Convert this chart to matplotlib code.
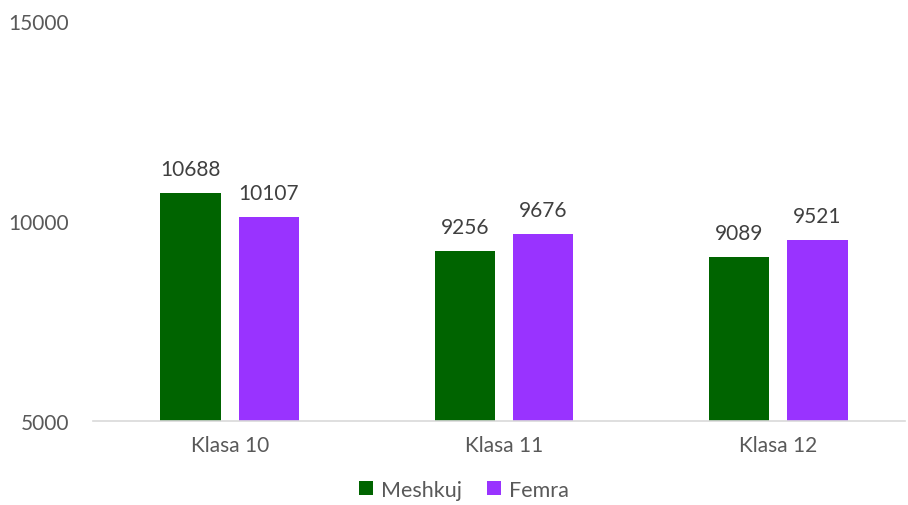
import numpy as np
import matplotlib.pyplot as plt

plt.rcParams['font.family'] = ['Lato', 'DejaVu Sans']

categories = ['Klasa 10', 'Klasa 11', 'Klasa 12']
meshkuj = [10688, 9256, 9089]
femra = [10107, 9676, 9521]

fig = plt.figure(figsize=(9.08, 5.06), dpi=100)
ax = fig.add_axes([0.102, 0.166, 0.895, 0.791])

x = np.arange(len(categories))
w = 0.219
off = 0.143
b1 = ax.bar(x - off, meshkuj, w, color='#006400', label='Meshkuj')
b2 = ax.bar(x + off, femra, w, color='#9933FF', label='Femra')

for bars in (b1, b2):
    for r in bars:
        ax.annotate(f'{int(r.get_height())}', (r.get_x() + r.get_width() / 2, r.get_height()),
                    xytext=(0, 10), textcoords='offset points', ha='center', va='bottom',
                    fontsize=15, color='#404040')

ax.set_ylim(5000, 15000)
ax.set_xlim(-0.5, 2.463)
ax.set_yticks([5000, 10000, 15000])
ax.set_xticks(x)
ax.set_xticklabels(categories)
ax.tick_params(axis='both', length=0, labelsize=15, colors='#595959')
ax.tick_params(axis='y', pad=17)
ax.tick_params(axis='x', pad=10)
for s in ['top', 'right', 'left']:
    ax.spines[s].set_visible(False)
ax.spines['bottom'].set_color('#d9d9d9')
ax.spines['bottom'].set_linewidth(1.2)

leg = fig.legend(loc='lower center', bbox_to_anchor=(0.511, -0.028), ncol=2, frameon=False,
                 fontsize=15.5, handlelength=0.65, handleheight=0.65, handletextpad=0.35,
                 columnspacing=1.2)
for t in leg.get_texts():
    t.set_color('#595959')

fig.savefig('out.png', dpi=100)
